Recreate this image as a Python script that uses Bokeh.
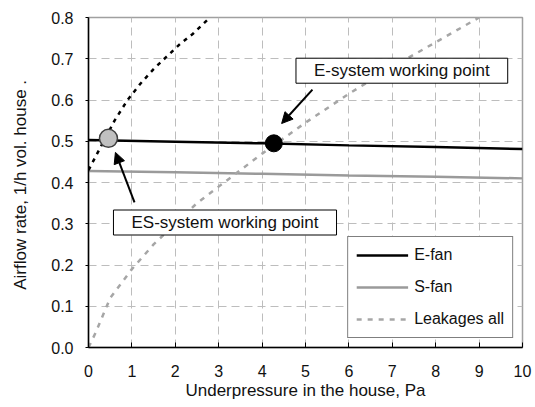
import numpy as np
from bokeh.plotting import figure
from bokeh.models import (Range1d, Label, Arrow, NormalHead, Legend, LegendItem,
                          FixedTicker)
from bokeh.embed import file_html
from bokeh.resources import INLINE

# ---- data ----
x_ticks = [0, 1, 2, 3, 4, 5, 6, 7, 8, 9, 10]
y_ticks = [0.0, 0.1, 0.2, 0.3, 0.4, 0.5, 0.6, 0.7, 0.8]
y_tick_labels = ["0.0", "0.1", "0.2", "0.3", "0.4", "0.5", "0.6", "0.7", "0.8"]

efan_x = [0, 2, 4, 6, 8, 10]
efan_y = [0.503, 0.499, 0.495, 0.490, 0.486, 0.481]

sfan_x = [0, 2, 4, 6, 8, 10]
sfan_y = [0.428, 0.425, 0.421, 0.417, 0.414, 0.410]

leak_x = [0, 0.16, 0.5, 1.0, 1.5, 2.0, 2.5, 3.0, 4.0, 5.0, 6.0, 7.0, 8.0, 9.0]
leak_y = [0.0, 0.035, 0.12, 0.19, 0.25, 0.30, 0.35, 0.39, 0.47, 0.545, 0.615, 0.68, 0.74, 0.80]

es_leak_x = [0, 0.15, 0.3, 0.6, 0.9, 1.2, 1.5, 1.8, 2.1, 2.4, 2.8]
es_leak_y = [0.43, 0.46, 0.49, 0.55, 0.60, 0.64, 0.675, 0.705, 0.735, 0.76, 0.80]

e_point_x = [4.27]
e_point_y = [0.495]
es_point_x = [0.46]
es_point_y = [0.507]

legend_labels = ["E-fan", "S-fan", "Leakages all"]
x_title = "Underpressure in the house, Pa"
y_title = "Airflow rate,  1/h vol. house ."
FONT = "Liberation Sans"

p = figure(width=535, height=407, output_backend="svg", toolbar_location=None,
           x_range=Range1d(0, 10), y_range=Range1d(0, 0.8),
           min_border_left=88, min_border_right=13, min_border_top=17,
           min_border_bottom=60)
p.background_fill_color = "white"
p.border_fill_color = "white"
p.outline_line_color = "#a0a0a0"
p.outline_line_width = 1.5

for ax in (p.xaxis[0], p.yaxis[0]):
    ax.axis_line_color = "black"
    ax.axis_line_width = 1.5
    ax.major_tick_line_color = "black"
    ax.major_tick_line_width = 1
    ax.minor_tick_line_color = None
    ax.major_label_text_font = FONT
    ax.major_label_text_font_size = "16px"
    ax.major_label_text_color = "#111111"
    ax.axis_label_text_font = FONT
    ax.axis_label_text_font_size = "17px"
    ax.axis_label_text_font_style = "normal"
    ax.axis_label_text_color = "#111111"

p.xaxis.axis_label = x_title
p.yaxis.axis_label = y_title

p.xaxis.ticker = FixedTicker(ticks=x_ticks)
p.xaxis.major_tick_in = 5
p.xaxis.major_tick_out = 0
p.xaxis.major_label_standoff = 17
p.xaxis.axis_label_standoff = 1

p.yaxis.ticker = FixedTicker(ticks=y_ticks)
p.yaxis.major_label_overrides = {t: l for t, l in zip(y_ticks, y_tick_labels)}
p.yaxis.major_tick_in = 0
p.yaxis.major_tick_out = 3
p.yaxis.major_label_standoff = 12
p.yaxis.axis_label_standoff = 18

p.xgrid.ticker = FixedTicker(ticks=x_ticks)
p.ygrid.ticker = FixedTicker(ticks=y_ticks)
for g in (p.xgrid[0], p.ygrid[0]):
    g.grid_line_color = "#bdbdbd"
    g.grid_line_dash = "8 5"
    g.grid_line_width = 1

# ---- series ----
r_s = p.line(sfan_x, sfan_y, line_color="#9a9a9a", line_width=2.5)
r_l = p.line(leak_x, leak_y, line_color="#a6a6a6", line_width=2.5, line_dash="5 6")
r_e = p.line(efan_x, efan_y, line_color="black", line_width=2.5)
p.line(es_leak_x, es_leak_y, line_color="black", line_width=2.5, line_dash="4 5")

p.scatter(es_point_x, es_point_y, size=18, fill_color="#c0c0c0",
          line_color="#404040", line_width=1.5)
p.scatter(e_point_x, e_point_y, size=17, fill_color="black", line_color="black")

# ---- annotations ----
p.add_layout(Arrow(x_start=5.16, y_start=0.625, x_end=4.45, y_end=0.543,
                   line_width=2, line_color="black",
                   end=NormalHead(size=11, fill_color="black", line_color="black")))
p.add_layout(Arrow(x_start=1.06, y_start=0.352, x_end=0.62, y_end=0.473,
                   line_width=2, line_color="black",
                   end=NormalHead(size=11, fill_color="black", line_color="black")))

for tx, ty, txt in [(7.22, 0.671, "E-system working point"),
                    (3.145, 0.303, "ES-system working point")]:
    p.add_layout(Label(x=tx, y=ty, text=txt, text_align="center",
                       text_baseline="middle", text_font=FONT,
                       text_font_size="17px", text_color="#111111",
                       background_fill_color="white", background_fill_alpha=1,
                       border_line_color="black", border_line_width=1,
                       padding=(18, 3)))

legend = Legend(items=[LegendItem(label=legend_labels[0], renderers=[r_e]),
                       LegendItem(label=legend_labels[1], renderers=[r_s]),
                       LegendItem(label=legend_labels[2], renderers=[r_l])],
                location="bottom_right", margin=9, padding=8, spacing=12,
                glyph_width=52, glyph_height=20, label_height=20,
                label_standoff=6, label_text_font=FONT,
                label_text_font_size="16px", label_text_color="#111111",
                border_line_color="black", border_line_width=1,
                background_fill_color="white", background_fill_alpha=1)
p.add_layout(legend)

open("out.html", "w").write(file_html(p, INLINE))
